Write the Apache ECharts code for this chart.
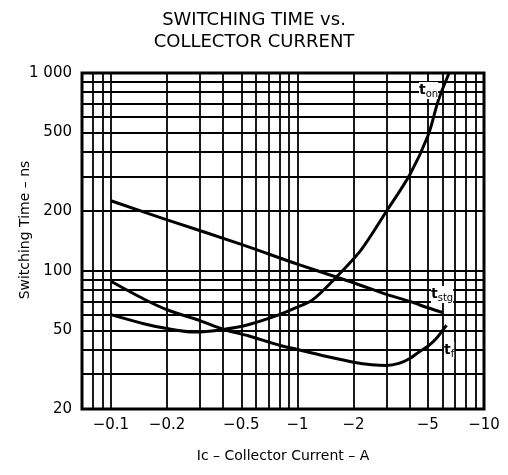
<!DOCTYPE html>
<html>
<head>
<meta charset="utf-8">
<script src="https://cdn.jsdelivr.net/npm/echarts@6/dist/echarts.min.js"></script>
<style>
  html, body { margin: 0; padding: 0; background: #fff; }
  #chart { width: 508px; height: 475px; }
</style>
</head>
<body>
<div id="chart"></div>
<script>
// collector current magnitude (A), plotted as negative values
const xTicks = [0.1, 0.2, 0.5, 1, 2, 5, 10]
const xGrid = [0.07, 0.08, 0.09, 0.1, 0.2, 0.3, 0.4, 0.5, 0.6, 0.7, 0.8, 0.9, 1, 2, 3, 4, 5, 6, 7, 8, 9, 10]
const yTicks = [20, 50, 100, 200, 500, 1000]
const yGrid = [20, 30, 40, 50, 60, 70, 80, 90, 100, 200, 300, 400, 500, 600, 700, 800, 900, 1000]

const tonX = [0.1, 0.15, 0.2, 0.28, 0.4, 0.55, 0.8, 1, 1.2, 1.6, 2.2, 3, 4, 5, 5.7, 6.5]
const tonY = [60, 54, 51, 49, 50.5, 53.5, 60, 65.5, 71, 92, 128, 200, 306, 480, 730, 1000]

const tstgX = [0.1, 0.2, 0.5, 1, 2, 3, 4, 5, 6]
const tstgY = [226, 181, 136, 108, 87, 76, 70, 65, 61.5]

const tfX = [0.1, 0.15, 0.2, 0.3, 0.4, 0.55, 0.8, 1, 1.5, 2, 2.5, 3, 3.5, 4, 4.5, 5, 5.5, 6, 6.3]
const tfY = [88.5, 72, 63.5, 56, 50.6, 46.8, 42, 40, 36.5, 34.5, 33.5, 33.2, 34, 36, 39, 41.5, 45, 50, 53]

const font = 'DejaVu Sans, sans-serif'

function pairs(xs, ys) {
  return xs.map((x, i) => [x, ys[i]])
}

function curveLabel(main, sub, left, top) {
  return {
    type: 'text',
    left: left,
    top: top,
    z: 101,
    style: {
      text: main + '{s|' + sub + '}',
      rich: { s: { fontSize: 10, fontFamily: font, padding: [7, 0, 0, 0] } },
      font: 'bold 14px ' + font,
      fill: '#000',
      backgroundColor: '#fff'
    }
  }
}

const chart = echarts.init(document.getElementById('chart'))

const curve = {
  type: 'line',
  smooth: 0.3,
  showSymbol: false,
  clip: true,
  lineStyle: { color: '#000', width: 3 }
}

chart.setOption({
  animation: false,
  title: {
    text: 'SWITCHING TIME vs.\nCOLLECTOR CURRENT',
    left: 249,
    textAlign: 'center',
    top: 4,
    textStyle: { fontFamily: font, fontSize: 18, fontWeight: 'normal', color: '#000', lineHeight: 22 }
  },
  grid: { left: 82, right: 24, top: 73, bottom: 66 },
  xAxis: {
    type: 'log',
    min: 0.07,
    max: 10,
    name: 'Ic – Collector Current – A',
    nameLocation: 'middle',
    nameGap: 40,
    nameTextStyle: { fontFamily: font, fontSize: 14, color: '#000' },
    axisLine: { show: true, lineStyle: { color: '#000', width: 2 } },
    axisTick: { show: false, customValues: xGrid },
    axisLabel: {
      customValues: xTicks,
      formatter: v => '−' + v,
      fontFamily: font, fontSize: 15, color: '#000', margin: 9
    },
    splitLine: { show: true, lineStyle: { color: '#000', width: 1.8 } }
  },
  yAxis: {
    type: 'log',
    min: 20,
    max: 1000,
    name: 'Switching Time – ns',
    nameLocation: 'middle',
    nameGap: 50,
    nameMoveOverlap: false,
    nameTextStyle: { fontFamily: font, fontSize: 14, color: '#000', padding: [0, 0, 0, 22] },
    axisLine: { show: true, lineStyle: { color: '#000', width: 2 } },
    axisTick: { show: false, customValues: yGrid },
    axisLabel: {
      customValues: yTicks,
      formatter: v => v === 1000 ? '1 000' : String(v),
      fontFamily: font, fontSize: 15, color: '#000', margin: 10
    },
    splitLine: { show: true, lineStyle: { color: '#000', width: 1.8 } }
  },
  graphic: [
    { type: 'rect', shape: { x: 82, y: 73, width: 402, height: 336 }, style: { fill: 'none', stroke: '#000', lineWidth: 3 }, z: 100 },
    curveLabel('t', 'on', 419, 82),
    curveLabel('t', 'stg', 431, 286),
    curveLabel('t', 'f', 444, 342)
  ],
  series: [
    Object.assign({ name: 'ton', data: pairs(tonX, tonY) }, curve),
    Object.assign({ name: 'tstg', data: pairs(tstgX, tstgY) }, curve),
    Object.assign({ name: 'tf', data: pairs(tfX, tfY) }, curve)
  ]
})
</script>
</body>
</html>
